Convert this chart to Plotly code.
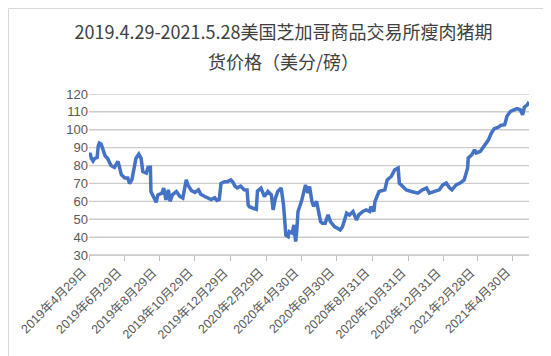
import plotly.graph_objects as go

# ---- data ----
dates = [
    "2019-04-29", "2019-05-01", "2019-05-03", "2019-05-06", "2019-05-09", "2019-05-13", "2019-05-15",
    "2019-05-17", "2019-05-20", "2019-05-23", "2019-05-27", "2019-05-31", "2019-06-06", "2019-06-12",
    "2019-06-18", "2019-06-21", "2019-06-24", "2019-06-30", "2019-07-05", "2019-07-08", "2019-07-12",
    "2019-07-17", "2019-07-19", "2019-07-24", "2019-07-28", "2019-07-31", "2019-08-06", "2019-08-09",
    "2019-08-13", "2019-08-14", "2019-08-19", "2019-08-23", "2019-08-26", "2019-09-02", "2019-09-05",
    "2019-09-09", "2019-09-13", "2019-09-16", "2019-09-20", "2019-09-27", "2019-10-03", "2019-10-08",
    "2019-10-14", "2019-10-17", "2019-10-23", "2019-10-29", "2019-11-04", "2019-11-08", "2019-11-15",
    "2019-11-21", "2019-11-26", "2019-12-02", "2019-12-06", "2019-12-10", "2019-12-13", "2019-12-19",
    "2019-12-24", "2019-12-30", "2020-01-03", "2020-01-06", "2020-01-10", "2020-01-16", "2020-01-22",
    "2020-01-27", "2020-01-29", "2020-01-31", "2020-02-06", "2020-02-12", "2020-02-14", "2020-02-20",
    "2020-02-26", "2020-03-03", "2020-03-09", "2020-03-12", "2020-03-16", "2020-03-20", "2020-03-26",
    "2020-03-30", "2020-04-03", "2020-04-07", "2020-04-09", "2020-04-14", "2020-04-17", "2020-04-20",
    "2020-04-22", "2020-04-24", "2020-04-30", "2020-05-04", "2020-05-07", "2020-05-11", "2020-05-14",
    "2020-05-18", "2020-05-21", "2020-05-26", "2020-05-29", "2020-06-02", "2020-06-05", "2020-06-10",
    "2020-06-15", "2020-06-19", "2020-06-26", "2020-07-06", "2020-07-10", "2020-07-15", "2020-07-17",
    "2020-07-22", "2020-07-28", "2020-08-03", "2020-08-07", "2020-08-14", "2020-08-20", "2020-08-26",
    "2020-08-28", "2020-09-02", "2020-09-04", "2020-09-11", "2020-09-21", "2020-09-25", "2020-10-02",
    "2020-10-08", "2020-10-14", "2020-10-16", "2020-10-22", "2020-10-28", "2020-11-06", "2020-11-17",
    "2020-11-25", "2020-12-02", "2020-12-07", "2020-12-16", "2020-12-24", "2020-12-30", "2021-01-05",
    "2021-01-11", "2021-01-15", "2021-01-22", "2021-01-29", "2021-02-05", "2021-02-11", "2021-02-12",
    "2021-02-18", "2021-02-23", "2021-02-26", "2021-03-05", "2021-03-09", "2021-03-15", "2021-03-19",
    "2021-03-24", "2021-03-29", "2021-04-05", "2021-04-09", "2021-04-16", "2021-04-20", "2021-04-26",
    "2021-05-03", "2021-05-07", "2021-05-13", "2021-05-17", "2021-05-20", "2021-05-25", "2021-05-28",
]
prices = [
    86, 87, 84, 82.5, 84, 84.5, 91,
    92.6, 92, 89, 85.3, 84, 80, 79,
    82.3, 78.6, 74.8, 73, 73, 70, 72,
    80.4, 84, 86.4, 84, 76.7, 75.8, 79,
    79, 65.5, 62.7, 59.5, 63.6, 64.6, 67.4,
    60.8, 66.4, 60, 63.6, 65.5, 62.7, 61.8,
    72, 69, 66, 65, 66.4, 64, 62.7,
    61.5, 61, 62, 60.5, 61, 70, 71,
    71, 72, 70.5, 68.5, 67.5, 68.5, 66.5,
    66.4, 58, 57, 56.5, 55.5, 65.7, 67.4,
    62.7, 65.5, 63.6, 55.2, 61.8, 65.5, 67.4,
    58, 41.2, 40.3, 43.1, 42.2, 46.8, 37.5,
    44, 54.3, 60, 66.4, 69.2, 64.6, 68.3,
    60, 57.1, 60, 55.2, 48.7, 47.8, 47.8,
    52.4, 48.7, 45.9, 44, 45.9, 50.6, 53.4,
    52.4, 54.3, 49.6, 52.4, 54.3, 55.2, 54.3,
    57.1, 54.3, 60, 65.5, 66.4, 72, 73.9,
    77.6, 78.6, 70.2, 68.3, 66.4, 65.5, 64.6,
    66.4, 67.4, 64.6, 65.5, 66.4, 69.2, 70.2,
    67.4, 66.4, 69.2, 70.2, 72, 78.6, 84.2,
    86, 88.8, 87, 88, 89.8, 92.6, 94.4,
    98.2, 100.6, 101.4, 102.5, 102.8, 107.5, 110.3,
    111.2, 111.8, 111.2, 108.4, 112.6, 114, 115.5,
]
tick_dates = [
    "2019-04-29", "2019-06-29", "2019-08-29", "2019-10-29", "2019-12-29", "2020-02-29", "2020-04-30",
    "2020-06-30", "2020-08-31", "2020-10-31", "2020-12-31", "2021-02-28", "2021-04-30",
]
tick_labels = [
    "2019年4月29日", "2019年6月29日", "2019年8月29日", "2019年10月29日", "2019年12月29日",
    "2020年2月29日", "2020年4月30日", "2020年6月30日", "2020年8月31日", "2020年10月31日",
    "2020年12月31日", "2021年2月28日", "2021年4月30日",
]
y_ticks = [30, 40, 50, 60, 70, 80, 90, 100, 110, 120]
title_line1 = "2019.4.29-2021.5.28美国芝加哥商品交易所瘦肉猪期"
title_line2 = "货价格（美分/磅）"

FONT = "Liberation Sans, Noto Sans CJK SC, sans-serif"
TITLE_FONT = "Noto Sans CJK SC, Liberation Sans, sans-serif"
GRID = "#CCCCCC"

fig = go.Figure()

# horizontal gridlines drawn as a background line trace at each y tick
grid_x, grid_y = [], []
for v in y_ticks:
    grid_x += [dates[0], dates[-1], None]
    grid_y += [v, v, None]
fig.add_trace(go.Scatter(
    x=grid_x, y=grid_y, mode="lines",
    line=dict(color=GRID, width=1.3),
    showlegend=False, hoverinfo="skip",
))

fig.add_trace(go.Scatter(
    x=dates, y=prices, mode="lines",
    line=dict(color="#4472C4", width=3.5),
    showlegend=False,
))

# rotated date labels under each tick (drawn as annotations)
tick_annotations = [
    dict(text=lab, xref="x", yref="paper", x=d, y=0,
         xanchor="right", yanchor="top", xshift=3, yshift=-8,
         textangle=-45, showarrow=False,
         font=dict(family=FONT, size=12.5, color="#595959"))
    for d, lab in zip(tick_dates, tick_labels)
]

fig.update_layout(
    width=551, height=356,
    margin=dict(l=81, r=30, t=86, b=109, pad=0),
    paper_bgcolor="white", plot_bgcolor="white",
    font=dict(family=FONT, size=13, color="#595959"),
    title=dict(
        text=title_line1, x=0.5, xanchor="center",
        y=1 - 25 / 356, yanchor="middle", yref="container",
        font=dict(family=TITLE_FONT, size=18, color="#404040"),
    ),
    xaxis=dict(
        type="date",
        range=[dates[0], dates[-1]],
        tickmode="array", tickvals=tick_dates, ticktext=tick_labels,
        showticklabels=False,
        ticks="outside", ticklen=5, tickcolor="#BFBFBF",
        showgrid=False, showline=True, linecolor=GRID, linewidth=1,
        zeroline=False,
    ),
    yaxis=dict(
        range=[30, 120], tickmode="array", tickvals=y_ticks,
        showgrid=True, gridcolor=GRID, gridwidth=1,
        zeroline=False, showline=False, ticks="",
        ticksuffix="\u00a0\u00a0",
        tickfont=dict(family=FONT, size=13, color="#595959"),
    ),
    annotations=[dict(
        text=title_line2, xref="paper", yref="paper",
        x=(275.5 - 81) / 440, y=(247 - 53) / 161,
        xanchor="center", yanchor="middle", showarrow=False,
        font=dict(family=TITLE_FONT, size=18, color="#404040"),
    )] + tick_annotations,
    shapes=[dict(
        type="rect", xref="paper", yref="paper",
        x0=(0.5 - 81) / 440, x1=(550.5 - 81) / 440,
        y0=(247 - 355.5) / 161, y1=(247 - 0.5) / 161,
        line=dict(color="#D9D9D9", width=1),
    )],
)

fig.write_html("out.html")
